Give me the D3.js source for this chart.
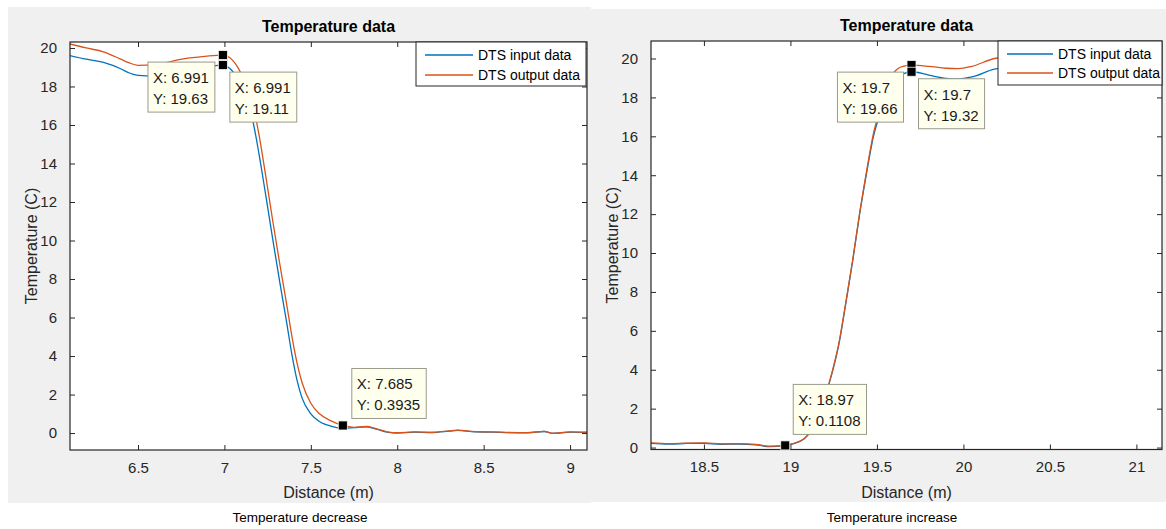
<!DOCTYPE html>
<html>
<head>
<meta charset="utf-8">
<script src="https://cdn.jsdelivr.net/npm/d3@7/dist/d3.min.js"></script>
<style>
  html, body { margin: 0; padding: 0; background: #ffffff; }
  svg { display: block; }
  text { font-family: "Liberation Sans", Arial, Helvetica, sans-serif; }
</style>
</head>
<body>
<svg id="chart" width="1166" height="529"></svg>
<script>
// ---------- Data: temperature decrease (left) ----------
const leftDistance = [6.10, 6.20, 6.30, 6.40, 6.45, 6.50, 6.60, 6.70, 6.80, 6.90, 6.991,
  7.03, 7.08, 7.12, 7.16, 7.20, 7.24, 7.28, 7.32, 7.36, 7.39, 7.42, 7.45, 7.50, 7.55,
  7.62, 7.685, 7.75, 7.82, 7.88, 7.95, 8.00, 8.10, 8.20, 8.30, 8.35, 8.45, 8.55, 8.65,
  8.75, 8.85, 8.90, 9.00, 9.10];
const leftInput = [19.62, 19.42, 19.25, 18.92, 18.70, 18.58, 18.55, 18.65, 18.82, 19.00, 19.11,
  18.95, 18.35, 17.55, 16.40, 14.50, 12.30, 10.05, 7.85, 5.75, 4.10, 2.75, 1.80, 1.00, 0.60,
  0.35, 0.25, 0.28, 0.32, 0.20, 0.03, 0.00, 0.05, 0.03, 0.10, 0.14, 0.06, 0.05, 0.02,
  0.01, 0.08, -0.02, 0.05, 0.03];
const leftOutput = [20.22, 20.00, 19.80, 19.42, 19.22, 19.10, 19.12, 19.32, 19.48, 19.58, 19.63,
  19.50, 18.95, 18.20, 17.20, 15.50, 13.30, 11.00, 8.80, 6.70, 5.05, 3.65, 2.60, 1.55, 1.00,
  0.62, 0.3935, 0.30, 0.34, 0.22, 0.05, 0.02, 0.06, 0.04, 0.11, 0.15, 0.07, 0.06, 0.03,
  0.02, 0.09, -0.01, 0.06, 0.04];
const leftXTicks = [6.5, 7, 7.5, 8, 8.5, 9];
// datatips: distance, temperature, series
const leftTipX = [6.991, 6.991, 7.685];
const leftTipY = [19.63, 19.11, 0.3935];
const leftTipLabelX = ["6.991", "6.991", "7.685"];
const leftTipLabelY = ["19.63", "19.11", "0.3935"];

// ---------- Data: temperature increase (right) ----------
const rightDistance = [18.19, 18.30, 18.40, 18.50, 18.60, 18.70, 18.80, 18.88, 18.97, 19.02,
  19.08, 19.12, 19.16, 19.20, 19.24, 19.28, 19.32, 19.36, 19.40, 19.44, 19.48, 19.52, 19.56,
  19.60, 19.65, 19.70, 19.80, 19.90, 19.97, 20.05, 20.18, 20.40, 20.70, 21.00, 21.16];
const rightInput = [0.22, 0.18, 0.21, 0.22, 0.17, 0.18, 0.14, 0.05, 0.1108, 0.20,
  0.45, 0.85, 1.60, 2.60, 3.80, 5.30, 7.40, 9.60, 12.00, 14.10, 16.00, 17.20, 18.20,
  18.85, 19.20, 19.32, 19.15, 18.98, 18.95, 19.05, 19.45, 19.65, 19.55, 19.60, 19.62];
const rightOutput = [0.24, 0.20, 0.23, 0.24, 0.19, 0.20, 0.16, 0.07, 0.13, 0.22,
  0.47, 0.88, 1.63, 2.63, 3.85, 5.35, 7.45, 9.65, 12.05, 14.20, 16.15, 17.40, 18.60,
  19.30, 19.60, 19.66, 19.60, 19.50, 19.48, 19.60, 20.00, 20.20, 20.10, 20.15, 20.20];
const rightXTicks = [18.5, 19, 19.5, 20, 20.5, 21];
const rightTipX = [19.7, 19.7, 18.97];
const rightTipY = [19.66, 19.32, 0.1108];
const rightTipLabelX = ["19.7", "19.7", "18.97"];
const rightTipLabelY = ["19.66", "19.32", "0.1108"];

const yTicks = [0, 2, 4, 6, 8, 10, 12, 14, 16, 18, 20];
const seriesNames = ["DTS input data", "DTS output data"];
const seriesColors = ["#0072BD", "#D95319"];
const chartTitle = "Temperature data";
const xLabel = "Distance (m)";
const yLabel = "Temperature (C)";

const svg = d3.select("#chart");
const axisColor = "#262626";

// grey figure backgrounds
svg.append("rect").attr("x", 8).attr("y", 7).attr("width", 583).attr("height", 496).attr("fill", "#f0f0f0");
svg.append("rect").attr("x", 591).attr("y", 9).attr("width", 575).attr("height", 493).attr("fill", "#f0f0f0");

function drawPanel(p) {
  const x = d3.scaleLinear().domain(p.xDomain).range(p.xRange);
  const y = d3.scaleLinear().domain(p.yDomain).range(p.yRange);
  const [x0, x1] = p.xRange, [y1, y0] = p.yRange;
  const g = svg.append("g");

  g.append("rect").attr("x", x0).attr("y", y0).attr("width", x1 - x0).attr("height", y1 - y0).attr("fill", "#ffffff");

  const clipId = "clip-" + p.id;
  g.append("clipPath").attr("id", clipId)
    .append("rect").attr("x", x0).attr("y", y0).attr("width", x1 - x0).attr("height", y1 - y0);

  const line = d3.line().x(d => x(d[0])).y(d => y(d[1])).curve(d3.curveMonotoneX);
  [p.input, p.output].forEach((vals, i) => {
    g.append("path")
      .datum(p.distance.map((d, k) => [d, vals[k]]))
      .attr("clip-path", `url(#${clipId})`)
      .attr("fill", "none")
      .attr("stroke", seriesColors[i])
      .attr("stroke-width", 1.3)
      .attr("d", line);
  });

  // axes with inward ticks on all four sides
  const tick = 5;
  const axB = d3.axisBottom(x).tickValues(p.xTicks).tickSizeInner(-tick).tickSizeOuter(0).tickPadding(12).tickFormat(d3.format("~g"));
  const axT = d3.axisTop(x).tickValues(p.xTicks).tickSizeInner(-tick).tickSizeOuter(0).tickFormat("");
  const axL = d3.axisLeft(y).tickValues(yTicks).tickSizeInner(-tick).tickSizeOuter(0).tickPadding(13).tickFormat(d3.format("~g"));
  const axR = d3.axisRight(y).tickValues(yTicks).tickSizeInner(-tick).tickSizeOuter(0).tickFormat("");

  const styleAxis = sel => {
    sel.select(".domain").remove();
    sel.selectAll("line").attr("stroke", axisColor).attr("stroke-width", 1);
    sel.selectAll("text").attr("fill", axisColor).attr("font-size", 15)
      .attr("font-family", "'Liberation Sans', Arial, sans-serif");
  };
  g.append("g").attr("transform", `translate(0,${y1})`).call(axB).call(styleAxis);
  g.append("g").attr("transform", `translate(0,${y0})`).call(axT).call(styleAxis);
  g.append("g").attr("transform", `translate(${x0},0)`).call(axL).call(styleAxis);
  g.append("g").attr("transform", `translate(${x1},0)`).call(axR).call(styleAxis);

  g.append("rect").attr("x", x0).attr("y", y0).attr("width", x1 - x0).attr("height", y1 - y0)
    .attr("fill", "none").attr("stroke", axisColor).attr("stroke-width", 1.2);

  // title and axis labels
  g.append("text").attr("x", (x0 + x1) / 2).attr("y", y0 - 10).attr("text-anchor", "middle")
    .attr("font-size", 16).attr("font-weight", "bold").attr("fill", "#000").text(chartTitle);
  g.append("text").attr("x", (x0 + x1) / 2).attr("y", y1 + 48).attr("text-anchor", "middle")
    .attr("font-size", 16).attr("fill", axisColor).text(xLabel);
  g.append("text").attr("transform", `translate(${x0 - 33},${(y0 + y1) / 2}) rotate(-90)`)
    .attr("text-anchor", "middle").attr("font-size", 16).attr("fill", axisColor).text(yLabel);

  // legend
  const L = p.legend;
  g.append("rect").attr("x", L.x).attr("y", y0).attr("width", L.w).attr("height", L.h)
    .attr("fill", "#ffffff").attr("stroke", axisColor).attr("stroke-width", 1);
  seriesNames.forEach((name, i) => {
    const cy = y0 + L.row0 + i * L.rowGap;
    g.append("line").attr("x1", L.x + 9).attr("x2", L.x + 9 + L.lineLen).attr("y1", cy).attr("y2", cy)
      .attr("stroke", seriesColors[i]).attr("stroke-width", 1.3);
    g.append("text").attr("x", L.x + 14 + L.lineLen).attr("y", cy + 5).attr("font-size", 14)
      .attr("fill", "#000").text(name);
  });

  // datatips
  p.tipX.forEach((tx, i) => {
    const px = x(tx), py = y(p.tipY[i]);
    const o = p.tipOffsets[i];
    const label = [`X: ${p.tipLabelX[i]}`, `Y: ${p.tipLabelY[i]}`];
    const tg = g.append("g");
    const t1 = tg.append("text").attr("font-size", 15).attr("fill", "#1a1a1a").text(label[0]);
    const t2 = tg.append("text").attr("font-size", 15).attr("fill", "#1a1a1a").text(label[1]);
    const w = Math.max(t1.node().getComputedTextLength(), t2.node().getComputedTextLength()) + 11;
    const h = 50;
    const bx = o.side === "left" ? px + o.dx - w : px + o.dx;
    const by = py + o.dy;
    tg.insert("rect", "text").attr("x", bx).attr("y", by).attr("width", w).attr("height", h)
      .attr("fill", "#ffffed").attr("stroke", "#9a9a8c").attr("stroke-width", 1);
    t1.attr("x", bx + 5).attr("y", by + 21);
    t2.attr("x", bx + 5).attr("y", by + 42);
  });
  p.tipX.forEach((tx, i) => {
    g.append("rect").attr("x", x(tx) - 4.5).attr("y", y(p.tipY[i]) - 4.5).attr("width", 9).attr("height", 9)
      .attr("fill", "#000").attr("stroke", "#f4f4e8").attr("stroke-width", 0.8);
  });
}

drawPanel({
  id: "left",
  xDomain: [6.1065, 9.098], yDomain: [-0.88, 20.31],
  xRange: [70, 587], yRange: [450, 42],
  distance: leftDistance, input: leftInput, output: leftOutput, xTicks: leftXTicks,
  legend: { x: 416, w: 170, h: 44, row0: 13, rowGap: 20, lineLen: 48 },
  tipX: leftTipX, tipY: leftTipY, tipLabelX: leftTipLabelX, tipLabelY: leftTipLabelY,
  tipOffsets: [{ side: "left", dx: -8, dy: 7 }, { side: "right", dx: 7, dy: 7 }, { side: "right", dx: 9, dy: -57 }]
});

drawPanel({
  id: "right",
  xDomain: [18.194, 21.148], yDomain: [-0.1, 20.9],
  xRange: [651, 1162], yRange: [449.5, 41],
  distance: rightDistance, input: rightInput, output: rightOutput, xTicks: rightXTicks,
  legend: { x: 998, w: 164, h: 44, row0: 13, rowGap: 19, lineLen: 46 },
  tipX: rightTipX, tipY: rightTipY, tipLabelX: rightTipLabelX, tipLabelY: rightTipLabelY,
  tipOffsets: [{ side: "left", dx: -8, dy: 7 }, { side: "right", dx: 7, dy: 7 }, { side: "right", dx: 8, dy: -61 }]
});

// captions under each figure
svg.append("text").attr("x", 300).attr("y", 522).attr("text-anchor", "middle")
  .attr("font-family", "'Open Sans', 'Noto Sans', sans-serif").attr("font-size", 13.5)
  .attr("fill", "#000").text("Temperature decrease");
svg.append("text").attr("x", 892).attr("y", 522).attr("text-anchor", "middle")
  .attr("font-family", "'Open Sans', 'Noto Sans', sans-serif").attr("font-size", 13.5)
  .attr("fill", "#000").text("Temperature increase");
</script>
</body>
</html>
